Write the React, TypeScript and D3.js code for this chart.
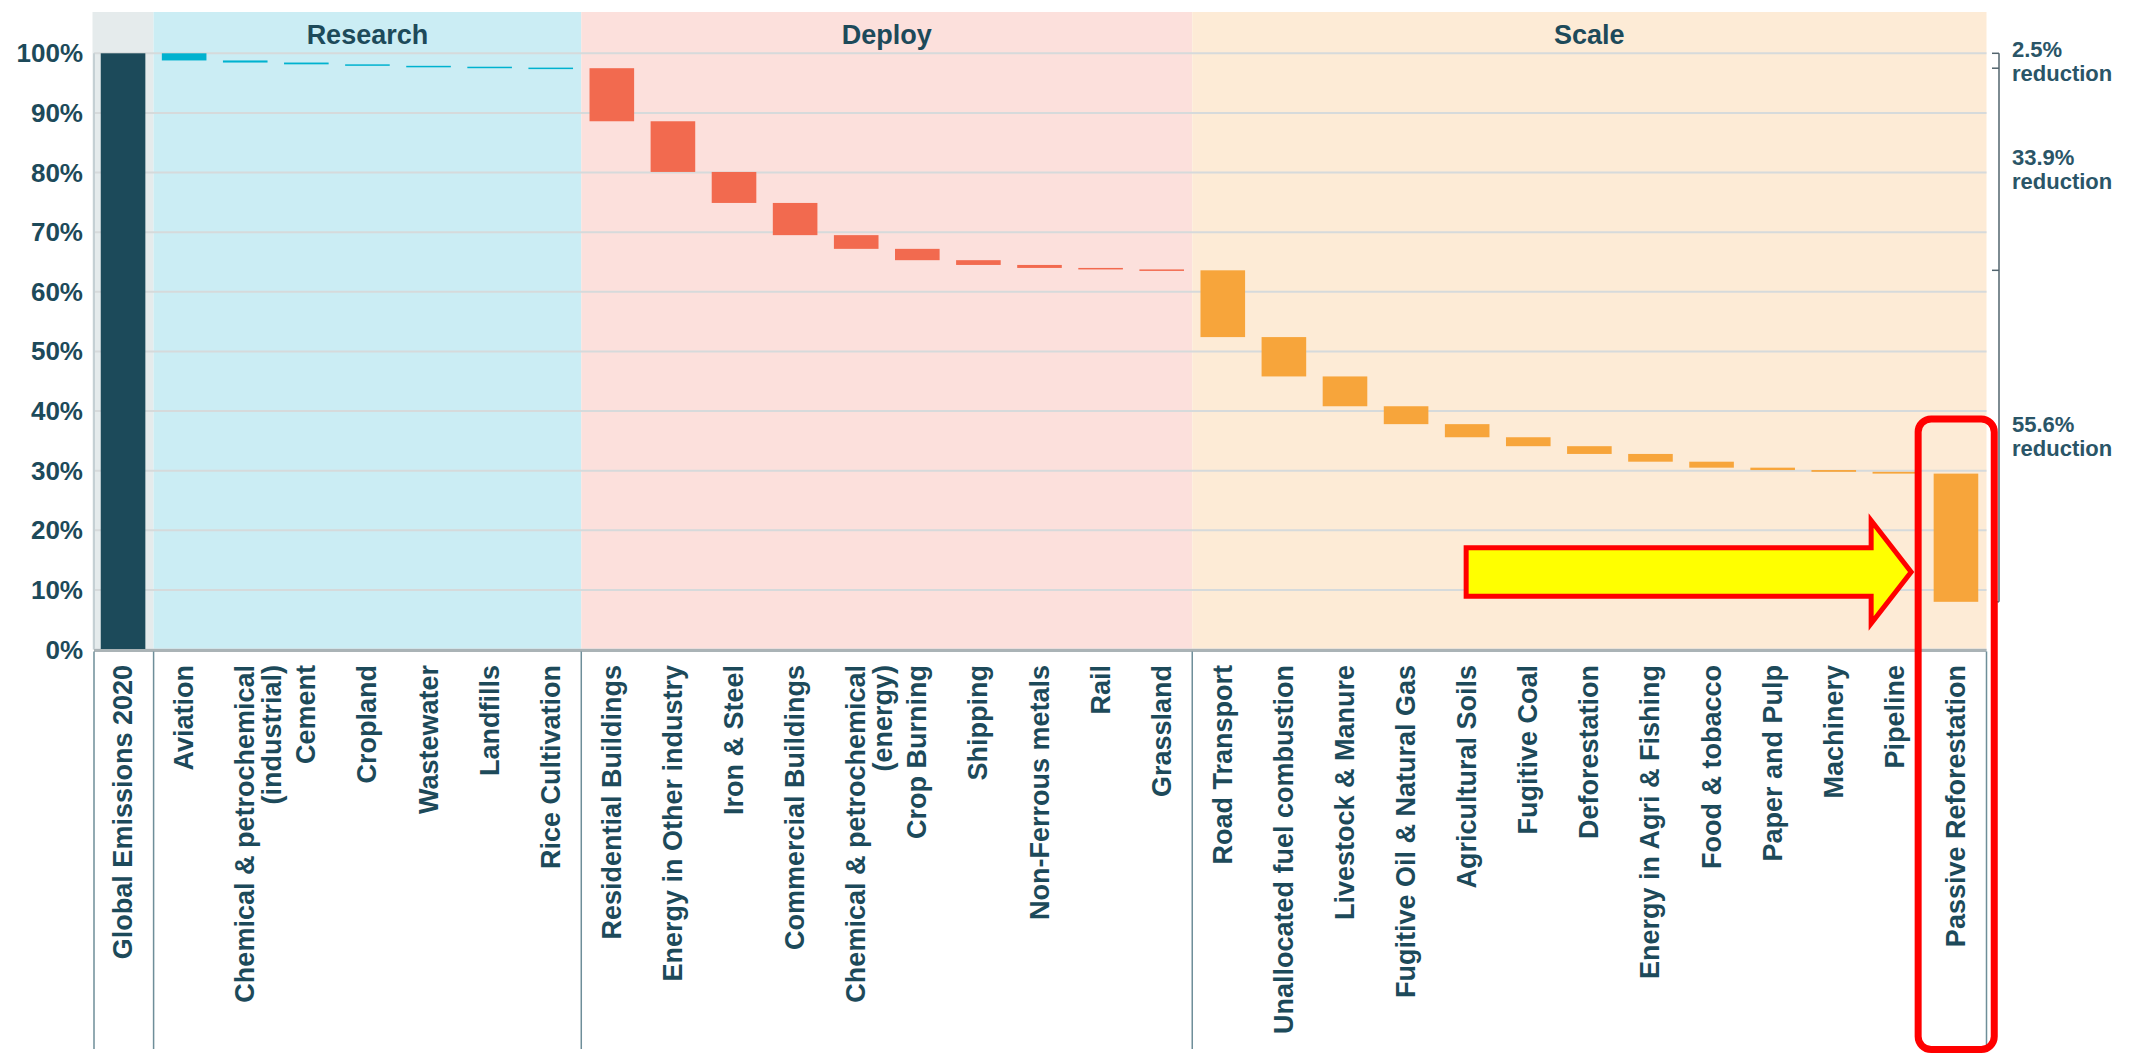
import React from "react";
import * as d3 from "d3";

const totalLabel = "Global Emissions 2020";
const totalValue = 100;

const stageNames = ["Research", "Deploy", "Scale"];

const researchCats = [
  "Aviation",
  "Chemical & petrochemical\n(industrial)",
  "Cement",
  "Cropland",
  "Wastewater",
  "Landfills",
  "Rice Cultivation",
];
const researchVals = [1.2, 0.35, 0.3, 0.25, 0.15, 0.15, 0.1];

const deployCats = [
  "Residential Buildings",
  "Energy in Other industry",
  "Iron & Steel",
  "Commercial Buildings",
  "Chemical & petrochemical\n(energy)",
  "Crop Burning",
  "Shipping",
  "Non-Ferrous metals",
  "Rail",
  "Grassland",
];
const deployVals = [8.9, 8.5, 5.2, 5.4, 2.3, 1.9, 0.8, 0.5, 0.25, 0.15];

const scaleCats = [
  "Road Transport",
  "Unallocated fuel combustion",
  "Livestock & Manure",
  "Fugitive Oil & Natural Gas",
  "Agricultural Soils",
  "Fugitive Coal",
  "Deforestation",
  "Energy in Agri & Fishing",
  "Food & tobacco",
  "Paper and Pulp",
  "Machinery",
  "Pipeline",
  "Passive Reforestation",
];
const scaleVals = [11.2, 6.6, 5.0, 3.0, 2.2, 1.5, 1.3, 1.3, 1.0, 0.4, 0.3, 0.3, 21.5];

const reductionLabels = ["2.5%", "33.9%", "55.6%"];
const yTicks = [0, 10, 20, 30, 40, 50, 60, 70, 80, 90, 100];

const stageCats = [researchCats, deployCats, scaleCats];
const stageVals = [researchVals, deployVals, scaleVals];

const COLORS = {
  total: "#1c4a5a",
  bars: ["#00b2cf", "#f26a4f", "#f7a53b"],
  bands: ["#cbedf4", "#fce0dc", "#fdebd6"],
  totalBand: "#e5ebec",
  text: "#1d4a5a",
  grid: "#d6dadb",
  sep: "#6e8e99",
};

const W = 2138;
const H = 1059;
const FONT = "'Liberation Sans', Arial, Helvetica, sans-serif";

export default function App() {
  const allCats = [totalLabel, ...researchCats, ...deployCats, ...scaleCats];

  const x = d3
    .scaleBand<string>()
    .domain(allCats)
    .range([92.5, 1986.5])
    .paddingInner(0.27)
    .paddingOuter(0.135);
  const y = d3.scaleLinear().domain([0, 100]).range([649.5, 53.3]);

  const bw = x.bandwidth();
  const gap = (x.step() - bw) / 2;
  const plotLeft = 94;
  const plotRight = x(allCats[allCats.length - 1])! + bw + gap;
  const plotTop = 12;

  // waterfall
  type Bar = { cat: string; top: number; bottom: number; color: string };
  const bars: Bar[] = [{ cat: totalLabel, top: totalValue, bottom: 0, color: COLORS.total }];
  let running = totalValue;
  const stageLevels: number[] = [running];
  stageCats.forEach((cats, si) => {
    cats.forEach((c, i) => {
      const v = stageVals[si][i];
      bars.push({ cat: c, top: running, bottom: running - v, color: COLORS.bars[si] });
      running -= v;
    });
    stageLevels.push(running);
  });

  const bands = stageCats.map((cats, si) => {
    const l = x(cats[0])! - gap;
    const r = x(cats[cats.length - 1])! + bw + gap;
    return { l, r, name: stageNames[si], color: COLORS.bands[si] };
  });
  const totalBand = { l: x(totalLabel)! - gap, r: x(totalLabel)! + bw + gap };

  const separators = [plotLeft, totalBand.r, ...bands.map((b) => b.r)];
  const labelTop = 665;
  const axisBottom = 1049;

  // bracket
  const bx = 1999;
  const bracketTicks = stageLevels.map((v) => y(v));

  // annotation positions relative to last column
  const lastCat = allCats[allCats.length - 1];
  const lastX = x(lastCat)!;
  const boxL = lastX - 15.5;
  const boxR = lastX + bw + 16;
  const boxT = 419;
  const boxB = 1049.5;
  const tipX = boxL - 7;
  const tipY = y(13);
  const headBase = tipX - 40;
  const shaftL = tipX - 445;
  const sh = 24.3;
  const hh = 51.5;
  const arrowPath = `M${shaftL},${tipY - sh} L${headBase},${tipY - sh} L${headBase},${tipY - hh} L${tipX},${tipY} L${headBase},${tipY + hh} L${headBase},${tipY + sh} L${shaftL},${tipY + sh} Z`;

  return (
    <svg
      width={W}
      height={H}
      style={{ position: "absolute", left: 0, top: 0, background: "#ffffff" }}
      fontFamily={FONT}
    >
      {/* bands */}
      <rect x={totalBand.l} y={plotTop} width={totalBand.r - totalBand.l} height={y(0) - plotTop} fill={COLORS.totalBand} />
      {bands.map((b) => (
        <rect key={b.name} x={b.l} y={plotTop} width={b.r - b.l} height={y(0) - plotTop} fill={b.color} />
      ))}
      {/* stage titles */}
      {bands.map((b) => (
        <text
          key={"t" + b.name}
          x={(b.l + b.r) / 2}
          y={35}
          textAnchor="middle"
          dominantBaseline="central"
          fontSize={27}
          fontWeight="bold"
          fill={COLORS.text}
        >
          {b.name}
        </text>
      ))}
      {/* gridlines */}
      {yTicks.map((t) => (
        <line key={"g" + t} x1={plotLeft} x2={plotRight} y1={y(t)} y2={y(t)} stroke={COLORS.grid} strokeWidth={2} />
      ))}
      {/* y axis line */}
      <line x1={plotLeft} x2={plotLeft} y1={y(100)} y2={y(0)} stroke="#c5d0d4" strokeWidth={2} />
      {/* bars */}
      {bars.map((b) => (
        <rect
          key={"b" + b.cat}
          x={x(b.cat)}
          y={y(b.top)}
          width={bw}
          height={Math.max(1.5, y(b.bottom) - y(b.top))}
          fill={b.color}
        />
      ))}
      {/* x axis */}
      <line x1={plotLeft} x2={plotRight} y1={y(0) + 1} y2={y(0) + 1} stroke="#aab3b6" strokeWidth={3} />
      {separators.map((sx, i) => (
        <line key={"s" + i} x1={sx} x2={sx} y1={y(0) + 2} y2={axisBottom} stroke={COLORS.sep} strokeWidth={1.5} />
      ))}
      {/* y tick labels */}
      {yTicks.map((t) => (
        <text
          key={"yl" + t}
          x={83}
          y={y(t)}
          textAnchor="end"
          dominantBaseline="central"
          fontSize={26}
          fontWeight="bold"
          fill={COLORS.text}
        >
          {t + "%"}
        </text>
      ))}
      {/* x labels */}
      {allCats.map((c) => {
        const cx = x(c)! + bw / 2;
        const lines = c.split("\n");
        return (
          <text
            key={"xl" + c}
            transform={`translate(${cx},${labelTop}) rotate(-90)`}
            textAnchor="end"
            fontSize={27}
            fontWeight="bold"
            fill={COLORS.text}
          >
            {lines.map((ln, i) => (
              <tspan key={i} x={0} y={i * 27} dominantBaseline="central">
                {ln}
              </tspan>
            ))}
          </text>
        );
      })}
      {/* reduction bracket */}
      <line x1={bx} x2={bx} y1={bracketTicks[0]} y2={bracketTicks[bracketTicks.length - 1]} stroke="#52646e" strokeWidth={1.5} />
      {bracketTicks.map((ty, i) => (
        <line key={"bt" + i} x1={bx - 7} x2={bx} y1={ty} y2={ty} stroke="#52646e" strokeWidth={1.5} />
      ))}
      {reductionLabels.map((lab, i) => {
        const mid = (bracketTicks[i] + bracketTicks[i + 1]) / 2;
        return (
          <text key={"rl" + i} x={2012} y={mid} fontSize={22} fontWeight="bold" fill="#2a5567">
            <tspan x={2012} dy={-4}>{lab}</tspan>
            <tspan x={2012} dy={24}>reduction</tspan>
          </text>
        );
      })}
      {/* annotations */}
      <path d={arrowPath} fill="#ffff00" stroke="#ff0000" strokeWidth={5} strokeLinejoin="miter" />
      <rect x={boxL} y={boxT} width={boxR - boxL} height={boxB - boxT} rx={13} fill="none" stroke="#ff0000" strokeWidth={7} />
    </svg>
  );
}
